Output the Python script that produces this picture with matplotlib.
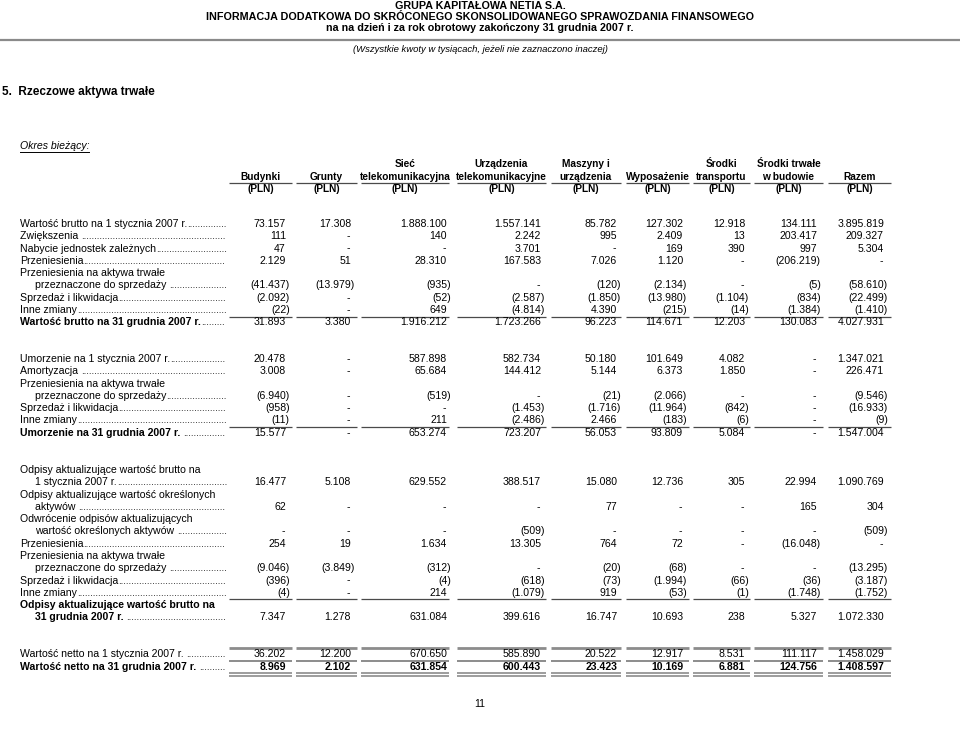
import matplotlib
matplotlib.use("Agg")
import matplotlib.pyplot as plt

plt.rcParams["font.family"] = ["Liberation Sans", "DejaVu Sans"]

# --- table content ---------------------------------------------------------
HEADER_LINES = [
    "GRUPA KAPITAŁOWA NETIA S.A.",
    "INFORMACJA DODATKOWA DO SKRÓCONEGO SKONSOLIDOWANEGO SPRAWOZDANIA FINANSOWEGO",
    "na na dzień i za rok obrotowy zakończony 31 grudnia 2007 r.",
]
SUBTITLE = "(Wszystkie kwoty w tysiącach, jeżeli nie zaznaczono inaczej)"
SECTION_TITLE = "5.  Rzeczowe aktywa trwałe"
PERIOD_LABEL = "Okres bieżący:"
PAGE_NUMBER = "11"

columns = [
    ("", "Budynki"),
    ("", "Grunty"),
    ("Sieć", "telekomunikacyjna"),
    ("Urządzenia", "telekomunikacyjne"),
    ("Maszyny i", "urządzenia"),
    ("", "Wyposażenie"),
    ("Środki", "transportu"),
    ("Środki trwałe", "w budowie"),
    ("", "Razem"),
]
unit = "(PLN)"

brutto_labels = [
    ["Wartość brutto na 1 stycznia 2007 r."],
    ["Zwiększenia "],
    ["Nabycie jednostek zależnych"],
    ["Przeniesienia"],
    ["Przeniesienia na aktywa trwałe", "przeznaczone do sprzedaży "],
    ["Sprzedaż i likwidacja"],
    ["Inne zmiany"],
    ["Wartość brutto na 31 grudnia 2007 r."],
]
brutto_values = [
    ["73.157", "17.308", "1.888.100", "1.557.141", "85.782", "127.302", "12.918", "134.111", "3.895.819"],
    ["111", "-", "140", "2.242", "995", "2.409", "13", "203.417", "209.327"],
    ["47", "-", "-", "3.701", "-", "169", "390", "997", "5.304"],
    ["2.129", "51", "28.310", "167.583", "7.026", "1.120", "-", "(206.219)", "-"],
    ["(41.437)", "(13.979)", "(935)", "-", "(120)", "(2.134)", "-", "(5)", "(58.610)"],
    ["(2.092)", "-", "(52)", "(2.587)", "(1.850)", "(13.980)", "(1.104)", "(834)", "(22.499)"],
    ["(22)", "-", "649", "(4.814)", "4.390", "(215)", "(14)", "(1.384)", "(1.410)"],
    ["31.893", "3.380", "1.916.212", "1.723.266", "96.223", "114.671", "12.203", "130.083", "4.027.931"],
]

umorzenie_labels = [
    ["Umorzenie na 1 stycznia 2007 r."],
    ["Amortyzacja "],
    ["Przeniesienia na aktywa trwałe", "przeznaczone do sprzedaży"],
    ["Sprzedaż i likwidacja"],
    ["Inne zmiany"],
    ["Umorzenie na 31 grudnia 2007 r. "],
]
umorzenie_values = [
    ["20.478", "-", "587.898", "582.734", "50.180", "101.649", "4.082", "-", "1.347.021"],
    ["3.008", "-", "65.684", "144.412", "5.144", "6.373", "1.850", "-", "226.471"],
    ["(6.940)", "-", "(519)", "-", "(21)", "(2.066)", "-", "-", "(9.546)"],
    ["(958)", "-", "-", "(1.453)", "(1.716)", "(11.964)", "(842)", "-", "(16.933)"],
    ["(11)", "-", "211", "(2.486)", "2.466", "(183)", "(6)", "-", "(9)"],
    ["15.577", "-", "653.274", "723.207", "56.053", "93.809", "5.084", "-", "1.547.004"],
]

odpisy_labels = [
    ["Odpisy aktualizujące wartość brutto na", "1 stycznia 2007 r."],
    ["Odpisy aktualizujące wartość określonych", "aktywów "],
    ["Odwrócenie odpisów aktualizujących", "wartość określonych aktywów "],
    ["Przeniesienia"],
    ["Przeniesienia na aktywa trwałe", "przeznaczone do sprzedaży "],
    ["Sprzedaż i likwidacja"],
    ["Inne zmiany"],
    ["Odpisy aktualizujące wartość brutto na", "31 grudnia 2007 r. "],
]
odpisy_values = [
    ["16.477", "5.108", "629.552", "388.517", "15.080", "12.736", "305", "22.994", "1.090.769"],
    ["62", "-", "-", "-", "77", "-", "-", "165", "304"],
    ["-", "-", "-", "(509)", "-", "-", "-", "-", "(509)"],
    ["254", "19", "1.634", "13.305", "764", "72", "-", "(16.048)", "-"],
    ["(9.046)", "(3.849)", "(312)", "-", "(20)", "(68)", "-", "-", "(13.295)"],
    ["(396)", "-", "(4)", "(618)", "(73)", "(1.994)", "(66)", "(36)", "(3.187)"],
    ["(4)", "-", "214", "(1.079)", "919", "(53)", "(1)", "(1.748)", "(1.752)"],
    ["7.347", "1.278", "631.084", "399.616", "16.747", "10.693", "238", "5.327", "1.072.330"],
]

netto_labels = [
    ["Wartość netto na 1 stycznia 2007 r. "],
    ["Wartość netto na 31 grudnia 2007 r. "],
]
netto_values = [
    ["36.202", "12.200", "670.650", "585.890", "20.522", "12.917", "8.531", "111.117", "1.458.029"],
    ["8.969", "2.102", "631.854", "600.443", "23.423", "10.169", "6.881", "124.756", "1.408.597"],
]

# --- layout (page pixels) -------------------------------------------------
col_spans = [(229, 292), (296, 357), (361, 449), (457, 546), (551, 621),
             (626, 689), (693, 750), (754, 823), (828, 891)]
col_right = [286, 351, 447, 541, 617, 683, 745, 817, 884]
PAREN = 3.8
LABEL_X, INDENT_X, LEADER_END = 20, 35, 227
PITCH = 12.28
FS = 7.6        # body rows
FS_HEAD = 7.3   # column headers
LINE_C = "#4a4a4a"

fig = plt.figure(figsize=(9.6, 7.35), dpi=100)
ax = fig.add_axes([0, 0, 1, 1])
ax.set_xlim(0, 960)
ax.set_ylim(735, 0)
ax.axis("off")
renderer = fig.canvas.get_renderer()

dot_probe = ax.text(0, 0, "." * 40, fontsize=FS - 0.6)
dot_w = (dot_probe.get_window_extent(renderer).width) / 40
dot_probe.remove()


def label_with_leader(y, text, x, bold=False):
    t = ax.text(x, y, text, fontsize=FS, va="center", ha="left",
                fontweight="bold" if bold else "normal")
    bb = t.get_window_extent(renderer)
    x_end = ax.transData.inverted().transform((bb.x1, bb.y0))[0]
    n = int((LEADER_END - x_end) / dot_w)
    if n > 0:
        ax.text(x_end, y, "." * n, fontsize=FS - 0.6, va="center", ha="left")


def value_row(y, values, bold=False):
    for v, r in zip(values, col_right):
        if v.startswith("("):
            xx = r + PAREN
        elif v == "-":
            xx = r - 1
        else:
            xx = r
        ax.text(xx, y, v, fontsize=FS, va="center", ha="right",
                fontweight="bold" if bold else "normal")


def col_lines(y, lw=0.9, color=LINE_C):
    for x0, x1 in col_spans:
        ax.plot([x0, x1], [y, y], color=color, lw=lw, solid_capstyle="butt")


def section(y0, labels, values, total_bold=True):
    y = y0
    for i, (lab, vals) in enumerate(zip(labels, values)):
        last = i == len(labels) - 1
        if last:
            col_lines(y - PITCH / 2 + 0.5)
        for j, part in enumerate(lab):
            if j < len(lab) - 1:
                ax.text(LABEL_X, y, part, fontsize=FS, va="center",
                        fontweight="bold" if (last and total_bold) else "normal")
                y += PITCH
            else:
                x = LABEL_X if j == 0 else INDENT_X
                label_with_leader(y, part, x, bold=last and total_bold)
        value_row(y, vals)
        y += PITCH


# page header
for y, line in zip([6, 17, 28], HEADER_LINES):
    ax.text(480, y, line, fontsize=7.75, fontweight="bold", ha="center", va="center")
ax.plot([0, 960], [40, 40], color="#8a8a8a", lw=1.6)
ax.text(480, 49, SUBTITLE, fontsize=6.8, style="italic", ha="center", va="center")
ax.text(2, 92, SECTION_TITLE, fontsize=8.5, fontweight="bold", ha="left", va="center")
ax.text(20, 146, PERIOD_LABEL, fontsize=FS, style="italic", ha="left", va="center")
ax.plot([20, 89], [151.5, 151.5], color="black", lw=0.7)

# column headers
for (top, bottom), (x0, x1) in zip(columns, col_spans):
    cx = (x0 + x1) / 2
    if top:
        ax.text(cx, 164, top, fontsize=FS_HEAD, fontweight="bold", ha="center", va="center")
    ax.text(cx, 176.5, bottom, fontsize=FS_HEAD, fontweight="bold", ha="center", va="center")
    ax.text(cx, 188.5, unit, fontsize=FS_HEAD, fontweight="bold", ha="center", va="center")
col_lines(182.5)

section(224, brutto_labels, brutto_values)
section(359, umorzenie_labels, umorzenie_values)
section(470, odpisy_labels, odpisy_values)

# net values
col_lines(647.5, lw=2.0, color="#8c8c8c")
label_with_leader(654, netto_labels[0][0], LABEL_X)
value_row(654, netto_values[0])
col_lines(660.8, lw=1.4, color="#8c8c8c")
label_with_leader(667, netto_labels[1][0], LABEL_X, bold=True)
value_row(667, netto_values[1], bold=True)
col_lines(673.3, lw=1.2, color="#8c8c8c")
col_lines(676.0, lw=1.2, color="#8c8c8c")

ax.text(480, 704, PAGE_NUMBER, fontsize=FS, ha="center", va="center")

fig.savefig("out.png", dpi=100)
